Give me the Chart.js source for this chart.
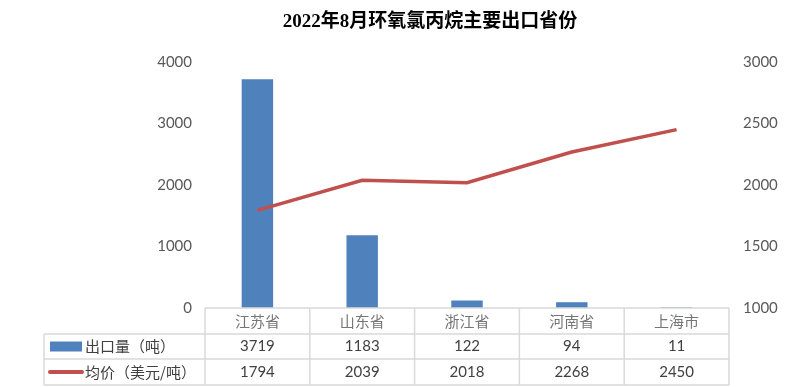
<!DOCTYPE html>
<html>
<head>
<meta charset="utf-8">
<script src="https://cdn.jsdelivr.net/npm/chart.js@4"></script>
<style>
  body { margin: 0; background: #ffffff; }
  #wrap { width: 800px; height: 387px; position: relative; }
</style>
</head>
<body>
<div id="wrap"><canvas id="provChart"></canvas></div>
<script>
const provinces = ["江苏省", "山东省", "浙江省", "河南省", "上海市"];
const exportVolume = [3719, 1183, 122, 94, 11];
const avgPrice = [1794, 2039, 2018, 2268, 2450];
const seriesNames = ["出口量（吨）", "均价（美元/吨）"];
const chartTitle = "2022年8月环氧氯丙烷主要出口省份";

const COLORS = {
  BAR: "#4F81BD",
  LINE: "#C0504D",
  TEXT: "#595959",
  TABLE_LINE: "#D9D9D9"
};

const CJK = "\"Noto Sans CJK SC\", sans-serif";
const NUM = "Lato, \"Noto Sans CJK SC\", sans-serif";

// draws title and the data table under the plot
const tablePlugin = {
  id: "dataTable",
  afterDraw(chart) {
    const ctx = chart.ctx;
    const area = chart.chartArea;
    const x = chart.scales.x;
    const rows = [area.bottom, area.bottom + 26, area.bottom + 51, area.bottom + 77];
    const legendLeft = 44;

    const edges = [area.left];
    for (let i = 0; i < provinces.length - 1; i++) {
      edges.push((x.getPixelForValue(i) + x.getPixelForValue(i + 1)) / 2);
    }
    edges.push(area.right);

    ctx.save();
    // title
    ctx.fillStyle = "#000000";
    ctx.font = "bold 19px \"Liberation Serif\", \"Noto Sans CJK SC\", serif";
    ctx.textAlign = "center";
    ctx.textBaseline = "middle";
    ctx.fillText(chartTitle, 430, 22);

    // grid lines
    ctx.strokeStyle = COLORS.TABLE_LINE;
    ctx.lineWidth = 1.5;
    ctx.beginPath();
    ctx.moveTo(area.left, rows[0]);
    ctx.lineTo(area.right, rows[0]);
    for (let r = 1; r < rows.length; r++) {
      ctx.moveTo(legendLeft, rows[r]);
      ctx.lineTo(area.right, rows[r]);
    }
    edges.forEach((ex) => {
      ctx.moveTo(ex, rows[0]);
      ctx.lineTo(ex, rows[3]);
    });
    ctx.moveTo(legendLeft, rows[1]);
    ctx.lineTo(legendLeft, rows[3]);
    ctx.stroke();

    // category labels and values
    ctx.textAlign = "center";
    for (let i = 0; i < provinces.length; i++) {
      const cx = x.getPixelForValue(i);
      ctx.fillStyle = "#767676";
      ctx.font = "15px " + CJK;
      ctx.fillText(provinces[i], cx, (rows[0] + rows[1]) / 2);
      ctx.font = "15px " + NUM;
      ctx.fillStyle = "#404040";
      ctx.fillText(String(exportVolume[i]), cx, (rows[1] + rows[2]) / 2);
      ctx.fillText(String(avgPrice[i]), cx, (rows[2] + rows[3]) / 2);
    }

    // legend keys
    const y1 = (rows[1] + rows[2]) / 2;
    const y2 = (rows[2] + rows[3]) / 2;
    ctx.fillStyle = COLORS.BAR;
    ctx.fillRect(50, y1 - 5, 32, 10);
    ctx.strokeStyle = COLORS.LINE;
    ctx.lineWidth = 4;
    ctx.lineCap = "round";
    ctx.beginPath();
    ctx.moveTo(50, y2);
    ctx.lineTo(82, y2);
    ctx.stroke();

    ctx.textAlign = "left";
    ctx.fillStyle = "#404040";
    ctx.font = "15px " + CJK;
    ctx.fillText(seriesNames[0], 85, y1);
    ctx.fillText(seriesNames[1], 85, y2);
    ctx.restore();
  }
};

new Chart(document.getElementById("provChart").getContext("2d"), {
  type: "bar",
  data: {
    labels: provinces,
    datasets: [
      {
        type: "line",
        label: seriesNames[1],
        data: avgPrice,
        yAxisID: "y1",
        borderColor: COLORS.LINE,
        backgroundColor: COLORS.LINE,
        borderWidth: 3.5,
        pointRadius: 0,
        tension: 0,
        order: 0
      },
      {
        type: "bar",
        label: seriesNames[0],
        data: exportVolume,
        yAxisID: "y",
        backgroundColor: COLORS.BAR,
        borderWidth: 0,
        categoryPercentage: 1,
        barPercentage: 0.3,
        order: 1
      }
    ]
  },
  options: {
    responsive: true,
    maintainAspectRatio: false,
    animation: false,
    layout: {
      padding: { top: 62, bottom: 79, left: 0, right: 0 }
    },
    plugins: {
      legend: { display: false },
      title: { display: false },
      tooltip: { enabled: false }
    },
    scales: {
      x: {
        display: false,
        offset: true
      },
      y: {
        position: "left",
        min: 0,
        max: 4000,
        afterFit(scale) { scale.width = 205; },
        grid: { display: false, drawTicks: false },
        border: { display: false },
        ticks: {
          stepSize: 1000,
          padding: 13,
          color: COLORS.TEXT,
          font: { family: NUM, size: 15 },
          callback: (v) => String(v)
        }
      },
      y1: {
        position: "right",
        min: 1000,
        max: 3000,
        afterFit(scale) { scale.width = 71; },
        grid: { display: false, drawTicks: false },
        border: { display: false },
        ticks: {
          stepSize: 500,
          padding: 14,
          color: COLORS.TEXT,
          font: { family: NUM, size: 15 },
          callback: (v) => String(v)
        }
      }
    }
  },
  plugins: [tablePlugin]
});
</script>
</body>
</html>
